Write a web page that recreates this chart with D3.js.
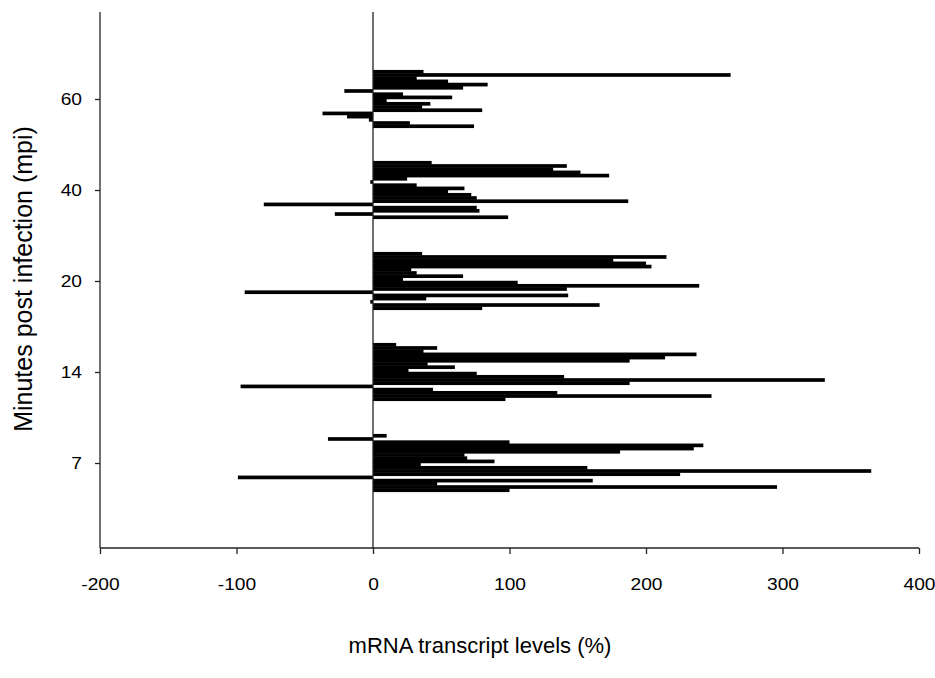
<!DOCTYPE html>
<html><head><meta charset="utf-8">
<script src="https://cdn.jsdelivr.net/npm/d3@7/dist/d3.min.js"></script>
<style>
body{margin:0;background:#fff}
text{font-family:"Liberation Sans",Arial,sans-serif;fill:#000}
</style>
</head><body>
<svg id="c" width="935" height="678"></svg>
<script>
// Categories (time points, minutes post infection)
const groupLabels = ["7", "14", "20", "40", "60"];
// mRNA transcript levels (%) per gene, listed top to bottom within each time point
const mpi7  = [10, -33, 100, 242, 235, 181, 67, 69, 89, 35, 157, 365, 225, -99, 161, 47, 296, 100];
const mpi14 = [17, 47, 37, 237, 214, 188, 40, 60, 26, 76, 140, 331, 188, -97, 44, 135, 248, 97];
const mpi20 = [36, 215, 176, 200, 204, 28, 32, 66, 22, 106, 239, 142, -94, 143, 39, -2, 166, 80];
const mpi40 = [43, 142, 132, 152, 173, 25, -2, 32, 67, 55, 72, 76, 187, -80, 76, 78, -28, 99];
const mpi60 = [37, 262, 32, 55, 84, 66, -21, 22, 58, 10, 42, 36, 80, -37, -19, -3, 27, 74];
const xTickValues = [-200, -100, 0, 100, 200, 300, 400];
const xTitle = "mRNA transcript levels (%)";
const yTitle = "Minutes post infection (mpi)";

const seriesList = [mpi7, mpi14, mpi20, mpi40, mpi60];

const svg = d3.select("#c");
const pLeft = 100, pRight = 919, pTop = 12, pBottom = 548;
const labelStretch = 1.2;

const x = d3.scaleLinear().domain([-200, 400]).range([pLeft, pRight]);
const y = d3.scaleLinear().domain([0, 6]).range([554, 8]);
const rowUnit = 0.0352; // spacing of genes inside a time-point group (in group units)
const barH = Math.abs(y(rowUnit) - y(0)) * 1.15;

// bars
const bars = [];
seriesList.forEach((vals, gi) => {
  const n = vals.length;
  vals.forEach((v, i) => {
    bars.push({g: gi + 1, pos: gi + 1 + ((n - 1) / 2 - i) * rowUnit, v});
  });
});
svg.append("g").selectAll("rect").data(bars).join("rect")
  .attr("x", d => Math.min(x(0), x(d.v)))
  .attr("width", d => Math.abs(x(d.v) - x(0)))
  .attr("y", d => y(d.pos) - barH / 2)
  .attr("height", barH)
  .attr("fill", "#000");

// x axis
const xAxis = svg.append("g").attr("transform", `translate(0,${pBottom})`)
  .call(d3.axisBottom(x).tickValues(xTickValues).tickSize(6).tickPadding(25).tickFormat(d => String(d)));
xAxis.select(".domain").remove();
xAxis.selectAll("line").attr("stroke", "#222").attr("stroke-width", 1.3);
xAxis.selectAll("text").attr("font-size", 16).attr("font-family", "Liberation Sans, Arial, sans-serif")
  .attr("transform", `scale(${labelStretch},1)`);
svg.append("line").attr("x1", pLeft).attr("x2", pRight).attr("y1", pBottom).attr("y2", pBottom)
  .attr("stroke", "#222").attr("stroke-width", 1.3);

// y axis
const yAxis = svg.append("g").attr("transform", `translate(${pLeft},0)`)
  .call(d3.axisLeft(y).tickValues([1, 2, 3, 4, 5]).tickSize(5).tickPadding(14).tickFormat(d => groupLabels[d - 1]));
yAxis.select(".domain").remove();
yAxis.selectAll("line").attr("stroke", "#222").attr("stroke-width", 1.3);
yAxis.selectAll("text").attr("font-size", 16).attr("font-family", "Liberation Sans, Arial, sans-serif")
  .attr("x", -18 / labelStretch)
  .attr("transform", `scale(${labelStretch},1)`);
svg.append("line").attr("x1", pLeft).attr("x2", pLeft).attr("y1", pTop).attr("y2", pBottom)
  .attr("stroke", "#222").attr("stroke-width", 1.3);

// zero line
svg.append("line").attr("x1", x(0)).attr("x2", x(0)).attr("y1", pTop).attr("y2", pBottom)
  .attr("stroke", "#222").attr("stroke-width", 1.3);

// titles
svg.append("text").attr("x", 480).attr("y", 653).attr("text-anchor", "middle")
  .attr("font-size", 22).text(xTitle);
svg.append("text").attr("transform", "translate(32,279) rotate(-90)").attr("text-anchor", "middle")
  .attr("font-size", 25).text(yTitle);
</script>
</body></html>
